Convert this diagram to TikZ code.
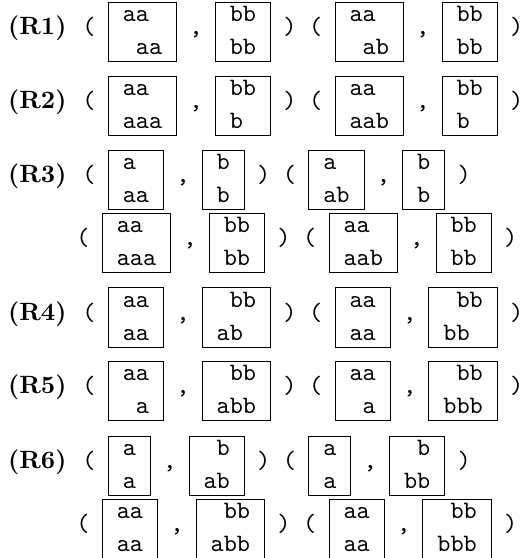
\documentclass[tikz,border=0pt]{standalone}
\usetikzlibrary{positioning}
\newcommand{\dom}[2]{\begin{tabular}[b]{@{}l@{}}#1\\#2\end{tabular}}
\newcommand{\tsp}{\hphantom{a}}

\begin{document}
\begin{tikzpicture}[x=0.4pt, y=-0.4pt, node distance=4.7pt,
	tile/.style={draw, font=\ttfamily\fontsize{10}{13.2}\selectfont, inner xsep=5.8pt, inner ysep=0pt, text height=20.8pt, text depth=2.8pt},
	sym/.style={font=\ttfamily, inner sep=0pt, text height=6pt, text depth=4pt},
	rulename/.style={font=\bfseries, inner sep=0pt, text height=6pt, text depth=4pt}]
		\useasboundingbox (0,0) rectangle (523,558);

		\node[sym] (o1) at (89,32.5) {(};
		\node[rulename, left=6pt of o1] (R1) {(R1)};
		\node[tile, right=of o1] (a1) {\dom{aa}{\tsp aa}};
		\node[sym, right=of a1] (c1) {,};
		\node[tile, right=of c1] (b1) {\dom{bb}{bb}};
		\node[sym, right=of b1] (e1) {)};
		\node[sym, right=of e1] (p1) {(};
		\node[tile, right=of p1] (f1) {\dom{aa}{\tsp ab}};
		\node[sym, right=of f1] (d1) {,};
		\node[tile, right=of d1] (g1) {\dom{bb}{bb}};
		\node[sym, right=of g1] (k1) {)};

		\node[sym] (o2) at (89,106.5) {(};
		\node[rulename, left=6pt of o2] (R2) {(R2)};
		\node[tile, right=of o2] (a2) {\dom{aa}{aaa}};
		\node[sym, right=of a2] (c2) {,};
		\node[tile, right=of c2] (b2) {\dom{bb}{b}};
		\node[sym, right=of b2] (e2) {)};
		\node[sym, right=of e2] (p2) {(};
		\node[tile, right=of p2] (f2) {\dom{aa}{aab}};
		\node[sym, right=of f2] (d2) {,};
		\node[tile, right=of d2] (g2) {\dom{bb}{b}};
		\node[sym, right=of g2] (k2) {)};

		\node[sym] (o3) at (89,180.5) {(};
		\node[rulename, left=6pt of o3] (R3) {(R3)};
		\node[tile, right=of o3] (a3) {\dom{a}{aa}};
		\node[sym, right=of a3] (c3) {,};
		\node[tile, right=of c3] (b3) {\dom{b}{b}};
		\node[sym, right=of b3] (e3) {)};
		\node[sym, right=of e3] (p3) {(};
		\node[tile, right=of p3] (f3) {\dom{a}{ab}};
		\node[sym, right=of f3] (d3) {,};
		\node[tile, right=of d3] (g3) {\dom{b}{b}};
		\node[sym, right=of g3] (k3) {)};

		\node[sym] (o4) at (83,243.5) {(};
		\node[tile, right=of o4] (a4) {\dom{aa}{aaa}};
		\node[sym, right=of a4] (c4) {,};
		\node[tile, right=of c4] (b4) {\dom{bb}{bb}};
		\node[sym, right=of b4] (e4) {)};
		\node[sym, right=of e4] (p4) {(};
		\node[tile, right=of p4] (f4) {\dom{aa}{aab}};
		\node[sym, right=of f4] (d4) {,};
		\node[tile, right=of d4] (g4) {\dom{bb}{bb}};
		\node[sym, right=of g4] (k4) {)};

		\node[sym] (o5) at (89,317.5) {(};
		\node[rulename, left=6pt of o5] (R4) {(R4)};
		\node[tile, right=of o5] (a5) {\dom{aa}{aa}};
		\node[sym, right=of a5] (c5) {,};
		\node[tile, right=of c5] (b5) {\dom{\tsp bb}{ab}};
		\node[sym, right=of b5] (e5) {)};
		\node[sym, right=of e5] (p5) {(};
		\node[tile, right=of p5] (f5) {\dom{aa}{aa}};
		\node[sym, right=of f5] (d5) {,};
		\node[tile, right=of d5] (g5) {\dom{\tsp bb}{bb}};
		\node[sym, right=of g5] (k5) {)};

		\node[sym] (o6) at (89,390.5) {(};
		\node[rulename, left=6pt of o6] (R5) {(R5)};
		\node[tile, right=of o6] (a6) {\dom{aa}{\tsp a}};
		\node[sym, right=of a6] (c6) {,};
		\node[tile, right=of c6] (b6) {\dom{\tsp bb}{abb}};
		\node[sym, right=of b6] (e6) {)};
		\node[sym, right=of e6] (p6) {(};
		\node[tile, right=of p6] (f6) {\dom{aa}{\tsp a}};
		\node[sym, right=of f6] (d6) {,};
		\node[tile, right=of d6] (g6) {\dom{\tsp bb}{bbb}};
		\node[sym, right=of g6] (k6) {)};

		\node[sym] (o7) at (89,465.5) {(};
		\node[rulename, left=6pt of o7] (R6) {(R6)};
		\node[tile, right=of o7] (a7) {\dom{a}{a}};
		\node[sym, right=of a7] (c7) {,};
		\node[tile, right=of c7] (b7) {\dom{\tsp b}{ab}};
		\node[sym, right=of b7] (e7) {)};
		\node[sym, right=of e7] (p7) {(};
		\node[tile, right=of p7] (f7) {\dom{a}{a}};
		\node[sym, right=of f7] (d7) {,};
		\node[tile, right=of d7] (g7) {\dom{\tsp b}{bb}};
		\node[sym, right=of g7] (k7) {)};

		\node[sym] (o8) at (83,528.5) {(};
		\node[tile, right=of o8] (a8) {\dom{aa}{aa}};
		\node[sym, right=of a8] (c8) {,};
		\node[tile, right=of c8] (b8) {\dom{\tsp bb}{abb}};
		\node[sym, right=of b8] (e8) {)};
		\node[sym, right=of e8] (p8) {(};
		\node[tile, right=of p8] (f8) {\dom{aa}{aa}};
		\node[sym, right=of f8] (d8) {,};
		\node[tile, right=of d8] (g8) {\dom{\tsp bb}{bbb}};
		\node[sym, right=of g8] (k8) {)};

	\end{tikzpicture}
\end{document}
